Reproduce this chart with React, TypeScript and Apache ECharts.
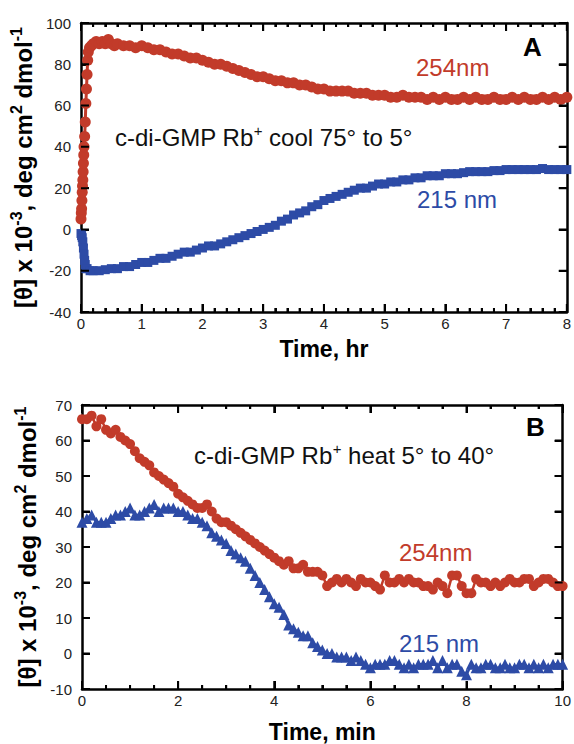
import React, { useEffect, useRef } from "react";
import * as echarts from "echarts";

// ---------- Panel A (time in hours) ----------
const timeA254 = [0, 0.005, 0.01, 0.015, 0.02, 0.025, 0.03, 0.035, 0.04, 0.045, 0.05, 0.06, 0.07, 0.08, 0.09, 0.1, 0.11, 0.12, 0.14, 0.17, 0.2, 0.25, 0.3, 0.35, 0.4, 0.45, 0.5, 0.55, 0.6, 0.7, 0.8, 0.9, 1.0, 1.1, 1.2, 1.3, 1.4, 1.5, 1.6, 1.7, 1.8, 1.9, 2.0, 2.1, 2.2, 2.3, 2.4, 2.5, 2.6, 2.7, 2.8, 2.9, 3.0, 3.1, 3.2, 3.3, 3.4, 3.5, 3.6, 3.7, 3.8, 3.9, 4.0, 4.1, 4.2, 4.3, 4.4, 4.5, 4.6, 4.7, 4.8, 4.9, 5.0, 5.1, 5.2, 5.3, 5.4, 5.5, 5.6, 5.7, 5.8, 5.9, 6.0, 6.1, 6.2, 6.3, 6.4, 6.5, 6.6, 6.7, 6.8, 6.9, 7.0, 7.1, 7.2, 7.3, 7.4, 7.5, 7.6, 7.7, 7.8, 7.9, 8.0];
const valA254 = [5, 8, 10, 14, 18, 21, 24, 28, 32, 36, 40, 45, 52, 61, 68, 75, 82, 86, 88, 89, 90, 91, 90, 91, 90, 92, 90, 89, 90, 89, 89, 88, 89, 88, 87, 87, 86, 85, 85, 84, 83, 83, 82, 81, 80, 80, 79, 78, 77, 76, 75, 74, 74, 73, 72, 72, 71, 71, 70, 70, 69, 68, 68, 67, 67, 67, 67, 66, 66, 66, 65, 65, 65, 64, 64, 65, 64, 64, 64, 63, 64, 63, 64, 63, 63, 64, 63, 64, 63, 63, 64, 63, 63, 64, 63, 64, 63, 63, 64, 63, 64, 63, 64];

const timeA215 = [0, 0.01, 0.02, 0.03, 0.04, 0.05, 0.06, 0.07, 0.08, 0.1, 0.15, 0.2, 0.3, 0.4, 0.5, 0.6, 0.7, 0.8, 0.9, 1.0, 1.1, 1.2, 1.3, 1.4, 1.5, 1.6, 1.7, 1.8, 1.9, 2.0, 2.1, 2.2, 2.3, 2.4, 2.5, 2.6, 2.7, 2.8, 2.9, 3.0, 3.1, 3.2, 3.3, 3.4, 3.5, 3.6, 3.7, 3.8, 3.9, 4.0, 4.1, 4.2, 4.3, 4.4, 4.5, 4.6, 4.7, 4.8, 4.9, 5.0, 5.1, 5.2, 5.3, 5.4, 5.5, 5.6, 5.7, 5.8, 5.9, 6.0, 6.1, 6.2, 6.3, 6.4, 6.5, 6.6, 6.7, 6.8, 6.9, 7.0, 7.1, 7.2, 7.3, 7.4, 7.5, 7.6, 7.7, 7.8, 7.9, 8.0];
const valA215 = [-2, -3, -4, -6, -9, -12, -15, -17, -19, -19, -20, -20, -20, -19.5, -19, -19, -18, -18, -17, -16, -16, -15, -14, -14, -13, -12, -11, -11, -10, -9, -8, -8, -7, -6, -5, -4, -3, -2, -1, 0, 1, 2, 4, 5, 7, 8, 9, 11, 12, 14, 15, 16, 17, 18, 19, 20, 20, 21, 22, 22, 23, 23, 24, 24, 25, 25, 26, 26, 26, 27, 27, 27, 27.5, 28, 28, 28, 28, 28.5, 28.5, 29, 29, 29, 29, 29, 29, 29.5, 29, 29, 29, 29];

// ---------- Panel B (time in minutes) ----------
const timeB = [0, 0.1, 0.2, 0.3, 0.4, 0.5, 0.6, 0.7, 0.8, 0.9, 1.0, 1.1, 1.2, 1.3, 1.4, 1.5, 1.6, 1.7, 1.8, 1.9, 2.0, 2.1, 2.2, 2.3, 2.4, 2.5, 2.6, 2.7, 2.8, 2.9, 3.0, 3.1, 3.2, 3.3, 3.4, 3.5, 3.6, 3.7, 3.8, 3.9, 4.0, 4.1, 4.2, 4.3, 4.4, 4.5, 4.6, 4.7, 4.8, 4.9, 5.0, 5.1, 5.2, 5.3, 5.4, 5.5, 5.6, 5.7, 5.8, 5.9, 6.0, 6.1, 6.2, 6.3, 6.4, 6.5, 6.6, 6.7, 6.8, 6.9, 7.0, 7.1, 7.2, 7.3, 7.4, 7.5, 7.6, 7.7, 7.8, 7.9, 8.0, 8.1, 8.2, 8.3, 8.4, 8.5, 8.6, 8.7, 8.8, 8.9, 9.0, 9.1, 9.2, 9.3, 9.4, 9.5, 9.6, 9.7, 9.8, 9.9, 10.0];
const valB254 = [66, 66, 67, 64, 66, 63, 62, 63, 61, 60, 59, 57, 55, 54, 53, 51, 50, 49, 48, 47, 45, 44, 43, 42, 41, 41, 42, 40, 38, 37, 37, 36, 35, 34, 33, 32, 31, 30, 29, 28, 27, 26, 25, 26, 24, 24, 25, 23, 23, 23, 22, 19, 20, 21, 20, 21, 20, 19, 21, 20, 20, 19, 18, 22, 20, 20, 21, 20, 21, 20, 20, 19, 19, 18, 20, 19, 17, 22, 22, 19, 17, 17, 21, 20, 20, 19, 20, 19, 20, 21, 20, 20, 21, 21, 19, 20, 21, 21, 20, 19, 19];
const valB215 = [37, 38, 39, 37, 37, 37, 38, 39, 39, 40, 41, 39, 39, 40, 41, 42, 40, 41, 41, 41, 40, 40, 39, 38, 38, 37, 36, 34, 33, 32, 31, 29, 28, 27, 26, 24, 22, 20, 18, 16, 14, 13, 11, 8, 7, 6, 5, 5, 3, 2, 1, 0, 0, -1, -1, -1, -2, -1, -2, -3, -4, -3, -3, -3, -2, -2, -3, -4, -3, -4, -3, -3, -3, -2, -4, -2, -4, -3, -3, -5, -6, -3, -4, -4, -3, -3, -4, -4, -3, -4, -4, -3, -3, -4, -3, -4, -3, -4, -3, -3, -3];

// ---------- Axis ranges and tick marks ----------
const rangeAx = [0, 8];
const rangeAy = [-40, 100];
const rangeBx = [0, 10];
const rangeBy = [-10, 70];
const majorTicksAx = [0, 1, 2, 3, 4, 5, 6, 7, 8];
const minorTicksAx = [0.2, 0.4, 0.6, 0.8, 1.2, 1.4, 1.6, 1.8, 2.2, 2.4, 2.6, 2.8, 3.2, 3.4, 3.6, 3.8, 4.2, 4.4, 4.6, 4.8, 5.2, 5.4, 5.6, 5.8, 6.2, 6.4, 6.6, 6.8, 7.2, 7.4, 7.6, 7.8];
const majorTicksAy = [-40, -20, 0, 20, 40, 60, 80, 100];
const majorTicksBx = [0, 2, 4, 6, 8, 10];
const minorTicksBx = [0.5, 1, 1.5, 2.5, 3, 3.5, 4.5, 5, 5.5, 6.5, 7, 7.5, 8.5, 9, 9.5];
const majorTicksBy = [-10, 0, 10, 20, 30, 40, 50, 60, 70];

const RED = "#C23B2A";
const BLUE = "#2D4BA6";
const FONT = "'Liberation Sans', Arial, Helvetica, sans-serif";

// grid boxes (pixels)
const GRID_A = { left: 81, top: 23, width: 487, height: 289 };
const GRID_B = { left: 82, top: 405, width: 486, height: 288 };
const MAJOR_PX = 8;
const MINOR_PX = 4;

const pair = (t: number[], v: number[]) => t.map((x, i) => [x, v[i]]);

// tick segments on bottom+top borders (x ticks), expressed in data units of the axes
function xTickData(ticks: number[], yRange: number[], px: number, gridH: number) {
  const d = ((yRange[1] - yRange[0]) * px) / gridH;
  const out: any[] = [];
  ticks.forEach((t) => {
    out.push([t, yRange[0]], [t, yRange[0] + d], ["-", "-"]);
    out.push([t, yRange[1]], [t, yRange[1] - d], ["-", "-"]);
  });
  return out;
}

// tick segments on left+right borders (y ticks)
function yTickData(ticks: number[], xRange: number[], px: number, gridW: number) {
  const d = ((xRange[1] - xRange[0]) * px) / gridW;
  const out: any[] = [];
  ticks.forEach((t) => {
    out.push([xRange[0], t], [xRange[0] + d, t], ["-", "-"]);
    out.push([xRange[1], t], [xRange[1] - d, t], ["-", "-"]);
  });
  return out;
}

function tickSeries(axisIndex: number, data: any[]) {
  return {
    type: "line",
    xAxisIndex: axisIndex,
    yAxisIndex: axisIndex,
    data,
    symbol: "none",
    connectNulls: false,
    clip: false,
    z: 5,
    lineStyle: { color: "#000", width: 2 },
    emphasis: { disabled: true },
    tooltip: { show: false },
  };
}

function xAxes(gridIndex: number, range: number[], interval: number, minorSplit: number, name: string, nameGap: number) {
  const mk = () => ({
    gridIndex,
    type: "value",
    min: range[0],
    max: range[1],
    interval,
    axisLine: { show: true, onZero: false, lineStyle: { color: "#000", width: 2.5 } },
    axisTick: { show: true, inside: true, length: MAJOR_PX, lineStyle: { color: "#000", width: 2 } },
    minorTick: { show: true, splitNumber: minorSplit, length: MINOR_PX, lineStyle: { color: "#000", width: 2 } },
    splitLine: { show: false },
  });
  return [
    {
      ...mk(),
      position: "bottom",
      axisLabel: { show: true, fontSize: 15, color: "#222", margin: 4, fontFamily: FONT },
      name,
      nameLocation: "middle",
      nameGap,
      nameTextStyle: { fontSize: 23, fontWeight: "bold", color: "#000", fontFamily: FONT },
    },
    { ...mk(), position: "top", axisLabel: { show: false } },
  ];
}

function yAxes(gridIndex: number, range: number[], interval: number) {
  const mk = () => ({
    gridIndex,
    type: "value",
    min: range[0],
    max: range[1],
    interval,
    axisLine: { show: true, onZero: false, lineStyle: { color: "#000", width: 2.5 } },
    axisTick: { show: true, inside: true, length: MAJOR_PX, lineStyle: { color: "#000", width: 2 } },
    splitLine: { show: false },
  });
  return [
    {
      ...mk(),
      position: "left",
      axisLabel: { show: true, fontSize: 15, color: "#222", margin: 10, fontFamily: FONT, padding: [0, 0, 6, 0] },
      name: "{a|[θ] x 10}{s|-3}{a|, deg cm}{s|2}{a| dmol}{s|-1}",
      nameLocation: "middle",
      nameRotate: 90,
      nameGap: 30,
      nameTextStyle: {
        fontFamily: FONT,
        rich: {
          a: { fontSize: 24, fontWeight: "bold", color: "#000", fontFamily: FONT, lineHeight: 30, verticalAlign: "middle" },
          s: { fontSize: 16, fontWeight: "bold", color: "#000", fontFamily: FONT, lineHeight: 16, verticalAlign: "top" },
        },
      },
    },
    { ...mk(), position: "right", axisLabel: { show: false } },
  ];
}

function label(left: number, top: number, text: string, color: string, size = 24, bold = false) {
  return {
    text,
    left,
    top,
    padding: 0,
    textStyle: { color, fontSize: size, fontWeight: bold ? "bold" : "normal", fontFamily: FONT },
  };
}

function richLabel(left: number, top: number, main1: string, sup: string, main2: string) {
  return {
    text: `{a|${main1}}{s|${sup}}{a|${main2}}`,
    left,
    top,
    padding: 0,
    textStyle: {
      fontFamily: FONT,
      rich: {
        a: { fontSize: 24, fontFamily: FONT, color: "#111", fontWeight: "normal", lineHeight: 28, verticalAlign: "middle" },
        s: { fontSize: 15, fontFamily: FONT, color: "#111", fontWeight: "normal", lineHeight: 15, verticalAlign: "top" },
      },
    },
  };
}

export default function App() {
  const ref = useRef<HTMLDivElement>(null);
  useEffect(() => {
    if (!ref.current) return;
    const chart = echarts.init(ref.current, undefined, { renderer: "svg" });
    const option = {
      animation: false,
      title: [
        richLabel(115, 123, "c-di-GMP Rb", "+", " cool 75° to 5°"),
        label(416, 55, "254nm", RED),
        label(417, 187, "215 nm", BLUE),
        label(523, 34, "A", "#000", 26, true),
        richLabel(194, 441, "c-di-GMP Rb", "+", " heat 5° to 40°"),
        label(399, 540, "254nm", RED),
        label(399, 631, "215 nm", BLUE),
        label(526, 414, "B", "#000", 26, true),
      ],
      grid: [GRID_A, GRID_B],
      xAxis: [...xAxes(0, rangeAx, 1, 5, "Time, hr", 25), ...xAxes(1, rangeBx, 2, 4, "Time, min", 31)],
      yAxis: [...yAxes(0, rangeAy, 20), ...yAxes(1, rangeBy, 10)],
      series: [
        {
          name: "254nm A",
          type: "line",
          xAxisIndex: 0,
          yAxisIndex: 0,
          data: pair(timeA254, valA254),
          symbol: "circle",
          symbolSize: 11,
          showAllSymbol: true,
          clip: false,
          lineStyle: { color: RED, width: 3 },
          itemStyle: { color: RED },
        },
        {
          name: "215 nm A",
          type: "line",
          xAxisIndex: 0,
          yAxisIndex: 0,
          data: pair(timeA215, valA215),
          symbol: "rect",
          symbolSize: 9,
          showAllSymbol: true,
          clip: false,
          lineStyle: { color: BLUE, width: 3 },
          itemStyle: { color: BLUE },
        },
        {
          name: "254nm B",
          type: "line",
          xAxisIndex: 2,
          yAxisIndex: 2,
          data: pair(timeB, valB254),
          symbol: "circle",
          symbolSize: 10,
          showAllSymbol: true,
          clip: false,
          lineStyle: { color: RED, width: 2.5 },
          itemStyle: { color: RED },
        },
        {
          name: "215 nm B",
          type: "line",
          xAxisIndex: 2,
          yAxisIndex: 2,
          data: pair(timeB, valB215),
          symbol: "triangle",
          symbolSize: 11,
          showAllSymbol: true,
          clip: false,
          lineStyle: { color: BLUE, width: 2.5 },
          itemStyle: { color: BLUE },
        },
        tickSeries(0, xTickData(majorTicksAx, rangeAy, MAJOR_PX, GRID_A.height)),
        tickSeries(0, xTickData(minorTicksAx, rangeAy, MINOR_PX, GRID_A.height)),
        tickSeries(0, yTickData(majorTicksAy, rangeAx, MAJOR_PX, GRID_A.width)),
        tickSeries(2, xTickData(majorTicksBx, rangeBy, MAJOR_PX, GRID_B.height)),
        tickSeries(2, xTickData(minorTicksBx, rangeBy, MINOR_PX, GRID_B.height)),
        tickSeries(2, yTickData(majorTicksBy, rangeBx, MAJOR_PX, GRID_B.width)),
      ],
    };
    chart.setOption(option as any);
    return () => chart.dispose();
  }, []);
  return <div ref={ref} style={{ position: "absolute", left: 0, top: 0, width: 574, height: 744 }} />;
}
